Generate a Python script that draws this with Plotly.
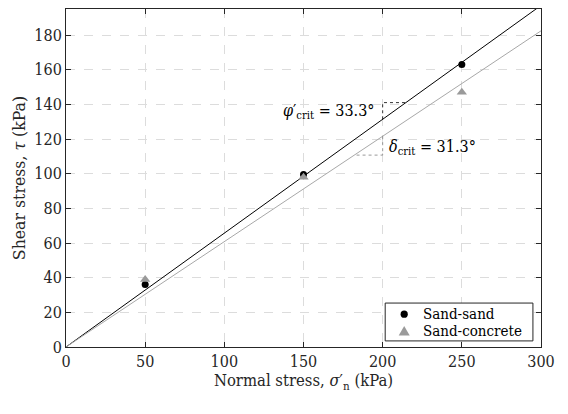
import numpy as np
import plotly.graph_objects as go

# Data
normal_stress = [50, 150, 250]
sand_sand = [36, 99.5, 163]
sand_concrete = [39, 98, 147]
phi_crit = 33.3      # degrees
delta_crit = 31.3    # degrees
x_line = [0, 300]
x_ticks = [0, 50, 100, 150, 200, 250, 300]
y_ticks = [0, 20, 40, 60, 80, 100, 120, 140, 160, 180]
series_names = ["Sand-sand", "Sand-concrete"]

FONT = "DejaVu Serif Condensed, DejaVu Serif"
BLACK = "#000000"
GRAY = "#9a9a9a"
TXT = "#262626"
fig = go.Figure()

tp = np.tan(np.radians(phi_crit))
td = np.tan(np.radians(delta_crit))

fig.add_trace(go.Scatter(x=x_line, y=[v * tp for v in x_line], mode="lines",
                         line=dict(color="black", width=1), showlegend=False))
fig.add_trace(go.Scatter(x=x_line, y=[v * td for v in x_line], mode="lines",
                         line=dict(color="#a8a8a8", width=1), showlegend=False))

# slope triangles
xv = 200
yp_top = 141
fig.add_trace(go.Scatter(x=[xv, xv, yp_top / tp], y=[xv * tp, yp_top, yp_top], mode="lines",
                         line=dict(color="black", width=0.8, dash="dot"), showlegend=False))
yd_bot = 110.7
fig.add_trace(go.Scatter(x=[xv, xv, yd_bot / td], y=[xv * td, yd_bot, yd_bot], mode="lines",
                         line=dict(color="#808080", width=0.8, dash="dot"), showlegend=False))

fig.add_trace(go.Scatter(x=normal_stress, y=sand_sand, mode="markers", name=series_names[0],
                         marker=dict(symbol="circle", color=BLACK, size=7), showlegend=False))
fig.add_trace(go.Scatter(x=normal_stress, y=sand_concrete, mode="markers", name=series_names[1],
                         marker=dict(symbol="triangle-up", color=GRAY, size=9), showlegend=False))

fig.add_annotation(x=196.5, y=136, xref="x", yref="y", xanchor="right", yanchor="middle",
                   text="<i>φ</i>′<sub>crit</sub> = 33.3°", showarrow=False,
                   font=dict(family=FONT, size=16, color="black"))
fig.add_annotation(x=203, y=115, xref="x", yref="y", xanchor="left", yanchor="middle",
                   text="<i>δ</i><sub>crit</sub> = 31.3°", showarrow=False,
                   font=dict(family=FONT, size=16, color="black"))

# legend box (drawn manually for compact MATLAB-like spacing)
lx0, lx1, ly0, ly1 = 0.672, 0.983, 0.018, 0.130
fig.add_shape(type="rect", xref="paper", yref="paper", x0=lx0, x1=lx1, y0=ly0, y1=ly1,
              line=dict(color=TXT, width=1), fillcolor="white", layer="above")
mx = 0.712
rows = [0.097, 0.048]
rx, ry = 3.6 / 475, 3.6 / 338
fig.add_shape(type="circle", xref="paper", yref="paper",
              x0=mx - rx, x1=mx + rx, y0=rows[0] - ry, y1=rows[0] + ry,
              line=dict(color=BLACK, width=0), fillcolor=BLACK, layer="above")
tw, th = 5.5 / 475, 4.8 / 338
fig.add_shape(type="path", xref="paper", yref="paper",
              path=f"M {mx - tw} {rows[1] - th} L {mx + tw} {rows[1] - th} L {mx} {rows[1] + th} Z",
              line=dict(color=GRAY, width=0), fillcolor=GRAY, layer="above")
for name, yy in zip(series_names, rows):
    fig.add_annotation(x=0.748, y=yy, xref="paper", yref="paper", xanchor="left", yanchor="middle",
                       text=name, showarrow=False,
                       font=dict(family=FONT, size=15, color="black"))

axis_common = dict(showline=True, linecolor=TXT, linewidth=1, mirror="ticks",
                   ticks="inside", ticklen=5, tickcolor=TXT,
                   showgrid=True, gridcolor="#dcdcdc", griddash="dash", gridwidth=1,
                   zeroline=False, tickfont=dict(family=FONT, size=16, color=TXT))

fig.update_xaxes(range=[0, 300], tickvals=x_ticks,
                 title=dict(text="Normal stress, <i>σ</i>′<sub>n</sub> (kPa)",
                            font=dict(family=FONT, size=16.5, color=TXT), standoff=4),
                 **axis_common)
fig.update_yaxes(range=[0, 195], tickvals=y_ticks,
                 title=dict(text="Shear stress, <i>τ</i> (kPa)",
                            font=dict(family=FONT, size=17.5, color=TXT), standoff=4),
                 **axis_common)

fig.update_layout(
    width=568, height=414,
    margin=dict(l=58, r=35, t=1, b=75),
    plot_bgcolor="white", paper_bgcolor="white",
    font=dict(family=FONT, size=15, color="black"),
    showlegend=False,
)

fig.write_html("out.html")
